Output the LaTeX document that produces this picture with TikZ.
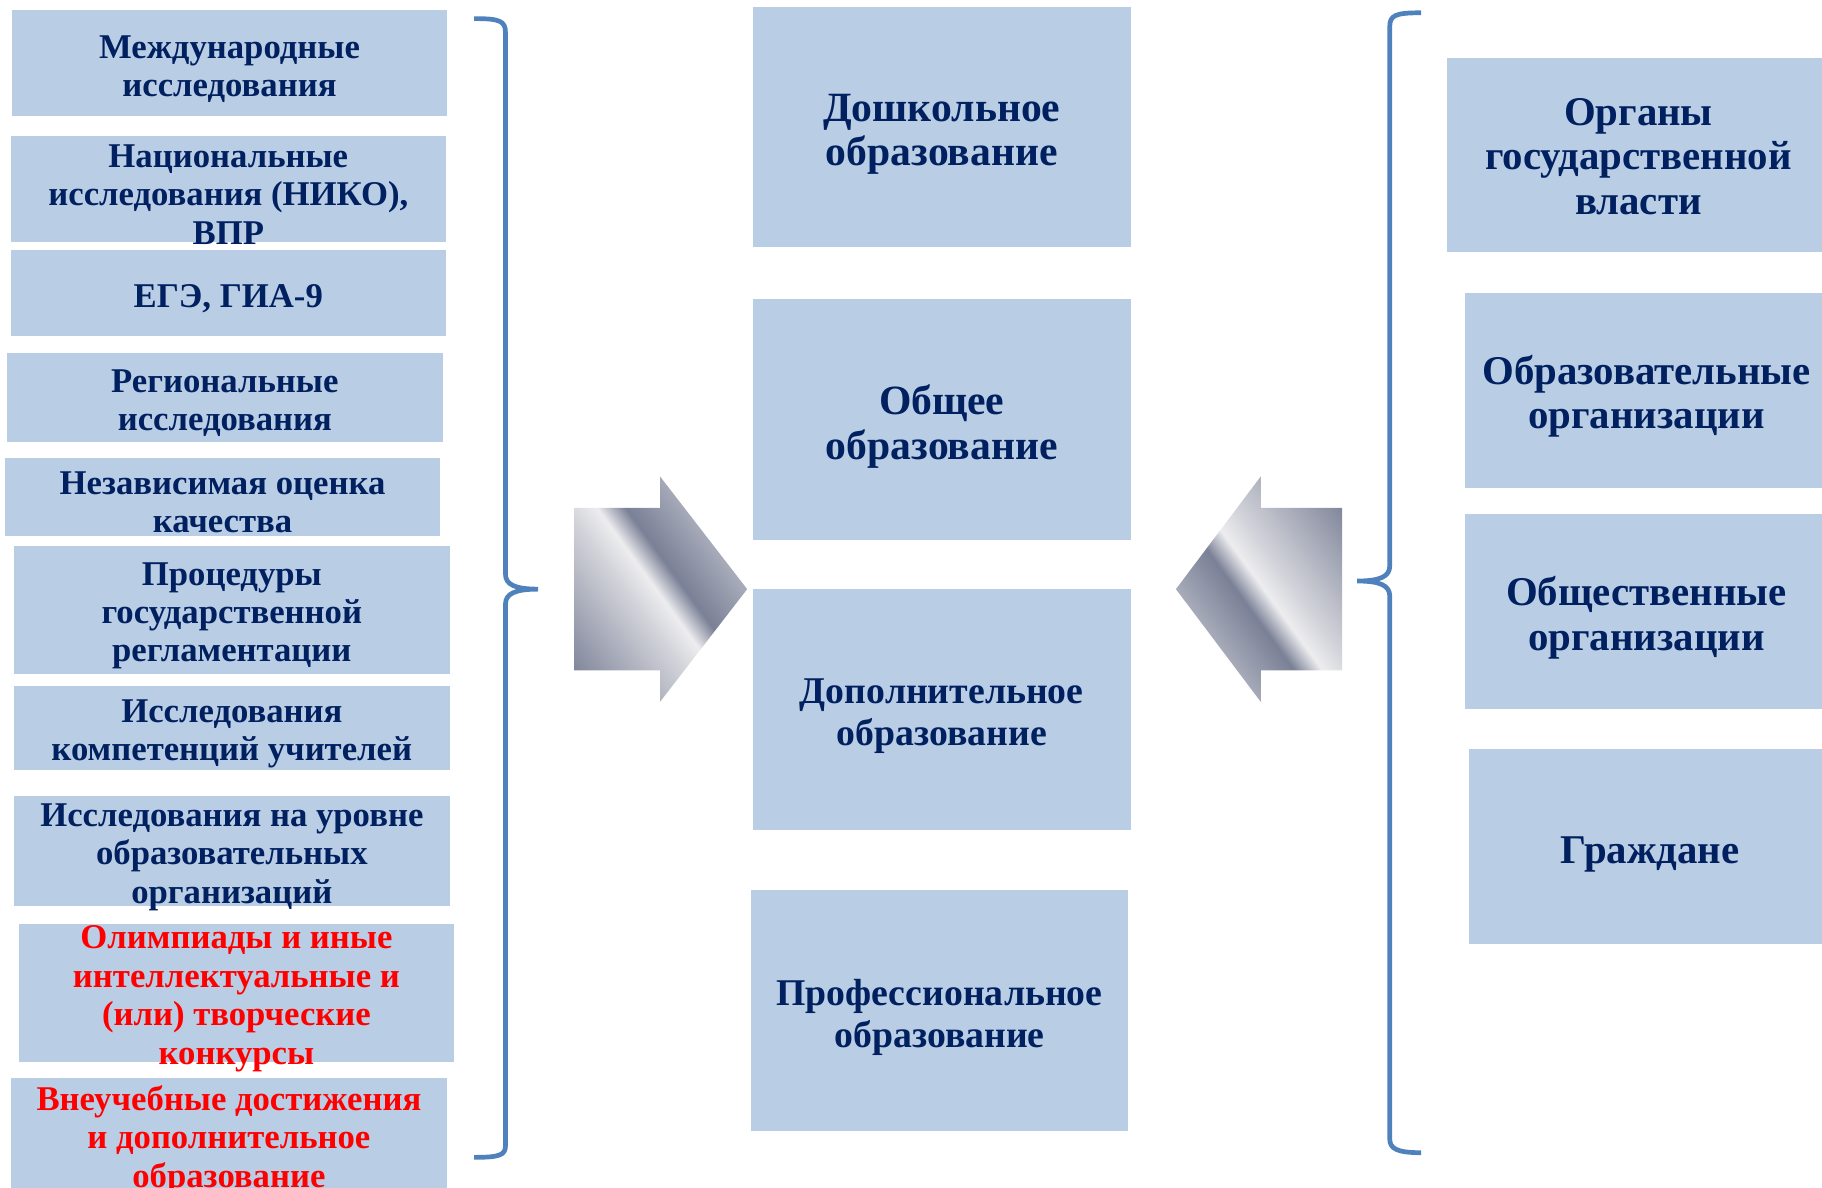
\documentclass[tikz,border=0pt]{standalone}
\usepackage{fontspec}
\setmainfont{Liberation Serif}
\definecolor{boxblue}{HTML}{B9CDE5}
\definecolor{navy}{HTML}{002060}
\definecolor{bracecol}{HTML}{4F81BD}
\definecolor{sdark}{HTML}{7A8096}
\definecolor{smid}{HTML}{A9ADBB}
\definecolor{slight}{HTML}{D4D5DB}
\definecolor{swhite}{HTML}{EDEDEF}
\pgfdeclarehorizontalshading{silver}{100bp}{color(0bp)=(smid); color(10bp)=(smid); color(18bp)=(sdark); color(43bp)=(slight); color(49bp)=(swhite); color(55bp)=(sdark); color(68bp)=(smid); color(88bp)=(sdark); color(100bp)=(sdark)}

\begin{document}
\begin{tikzpicture}[x=0.02cm, y=-0.02cm,
    lbox/.style={fill=boxblue, minimum width=7.5cm, inner sep=0pt},
    cbox/.style={fill=boxblue, minimum width=6.5cm, minimum height=4.14cm, inner sep=0pt},
    rbox/.style={fill=boxblue, minimum width=6.24cm, minimum height=3.36cm, inner sep=0pt},
    ltxt/.style={text=navy, align=center, yshift=-0.1cm, font=\fontsize{17}{18.8}\selectfont\bfseries},
    redtxt/.style={ltxt, text=red},
    ctxt/.style={text=navy, align=center, yshift=-0.12cm, font=\fontsize{20.4}{21.8}\selectfont\bfseries},
    csmall/.style={ctxt, font=\fontsize{18.5}{20.5}\selectfont\bfseries},
    rtxt/.style={text=navy, align=center, yshift=-0.1cm, font=\fontsize{20}{21.8}\selectfont\bfseries},
    brace/.style={draw=bracecol, line width=2.3pt},
    silverarrow/.style={shading=silver}]
  \useasboundingbox (0,0) rectangle (1568,1022);

  % left column
  \node[lbox, minimum height=1.82cm] (intl) at (197.5,54.5) {};
  \node[ltxt] (intlt) at (intl) {Международные\\исследования};
  \node[lbox, minimum height=1.82cm] (natl) at (196.5,162.5) {};
  \node[ltxt] (natlt) at (natl) {Национальные\\исследования (НИКО),\\ВПР};
  \node[lbox, minimum height=1.48cm] (ege) at (196.5,252) {};
  \node[ltxt] (eget) at (ege) {ЕГЭ, ГИА-9};
  \node[lbox, minimum height=1.52cm] (regn) at (193.5,342) {};
  \node[ltxt] (regnt) at (regn) {Региональные\\исследования};
  \node[lbox, minimum height=1.34cm] (indep) at (191.5,427.5) {};
  \node[ltxt] (indept) at (indep) {Независимая оценка\\качества};
  \node[lbox, minimum height=2.2cm] (proc) at (199.5,525) {};
  \node[ltxt] (proct) at (proc) {Процедуры\\государственной\\регламентации};
  \node[lbox, minimum height=1.46cm] (teach) at (199.5,626.5) {};
  \node[ltxt] (teacht) at (teach) {Исследования\\компетенций учителей};
  \node[lbox, minimum height=1.9cm] (orgs) at (199.5,732.5) {};
  \node[ltxt] (orgst) at (orgs) {Исследования на уровне\\образовательных\\организаций};
  \node[lbox, minimum height=2.38cm] (olymp) at (203.5,854.5) {};
  \node[redtxt] (olympt) at (olymp) {Олимпиады и иные\\интеллектуальные и\\(или) творческие\\конкурсы};
  \node[lbox, minimum height=2cm] (extra) at (197,978) {};
  \node[redtxt, yshift=0.04cm] (extrat) at (extra) {Внеучебные достижения\\и дополнительное\\образование};

  % braces
  \draw[brace] (408,16) .. controls (430,16) and (435,18) .. (435,28) -- (435,494)
    .. controls (435,503) and (443,507) .. (463,507)
    .. controls (443,507) and (435,511) .. (435,520) -- (435,986)
    .. controls (435,994) and (430,996) .. (408,996);
  \draw[brace] (1223,11) .. controls (1201,11) and (1196,13) .. (1196,23) -- (1196,487)
    .. controls (1196,496) and (1188,500) .. (1168,500)
    .. controls (1188,500) and (1196,504) .. (1196,513) -- (1196,980)
    .. controls (1196,988) and (1201,992) .. (1223,992);

  % arrows
  \shade[silverarrow, shading angle=36] (494,437) -- (568,437) -- (568,410) -- (643,507)
    -- (568,604) -- (568,577) -- (494,577) -- cycle;
  \shade[silverarrow, shading angle=216] (1155,437) -- (1085,437) -- (1085,410) -- (1012,507)
    -- (1085,604) -- (1085,577) -- (1155,577) -- cycle;

  % centre column
  \node[cbox] (pre) at (810.5,109.5) {};
  \node[ctxt] (pret) at (pre) {Дошкольное\\образование};
  \node[cbox] (gen) at (810.5,361) {};
  \node[ctxt] (gent) at (gen) {Общее\\образование};
  \node[cbox] (add) at (810.5,610.5) {};
  \node[csmall] (addt) at (add) {Дополнительное\\образование};
  \node[cbox] (prof) at (808.5,869.5) {};
  \node[csmall] (proft) at (prof) {Профессиональное\\образование};

  % right column
  \node[rbox, minimum width=6.6cm, minimum height=3.34cm] (gov) at (1410,133.5) {};
  \node[rtxt, yshift=0.08cm] (govt) at (gov) {Органы\\государственной\\власти};
  \node[rbox] (edu) at (1417,336) {};
  \node[rtxt] (edut) at (edu) {Образовательные\\организации};
  \node[rbox] (pub) at (1417,526.5) {};
  \node[rtxt] (pubt) at (pub) {Общественные\\организации};
  \node[rbox] (cit) at (1420,728.5) {};
  \node[rtxt, yshift=-0.04cm] (citt) at (cit) {Граждане};
\end{tikzpicture}
\end{document}
